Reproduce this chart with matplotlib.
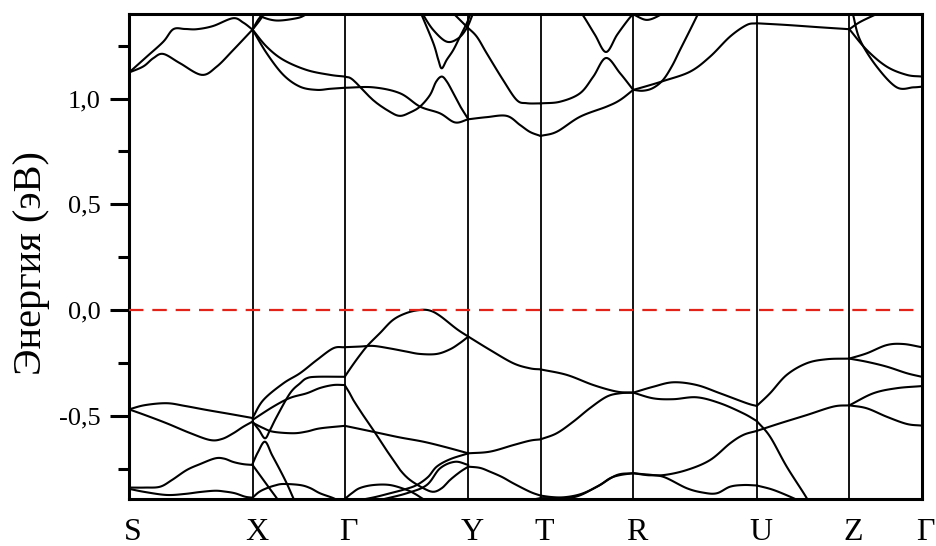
import numpy as np
import matplotlib
matplotlib.use('Agg')
import matplotlib.pyplot as plt
import matplotlib.transforms as mtransforms
from matplotlib.ticker import MultipleLocator, FuncFormatter

plt.rcParams['font.family'] = ['Liberation Serif', 'DejaVu Serif']

# high-symmetry points along the path
kpt_labels = ['S', 'X', 'Γ', 'Y', 'T', 'R', 'U', 'Z', 'Γ']
kpt_pos = [0.0, 1.235, 2.157, 3.393, 4.115, 5.042, 6.277, 7.203, 7.927]

# conduction bands, (k, E) in eV
cb_sx_low = [(0.0, 1.123), (0.143, 1.152), (0.243, 1.191), (0.343, 1.211), (0.51, 1.167),
             (0.727, 1.112), (0.877, 1.151), (1.043, 1.230), (1.235, 1.326)]
cb_sx_up = [(0.0, 1.123), (0.177, 1.198), (0.343, 1.269), (0.443, 1.328), (0.56, 1.329),
            (0.677, 1.328), (0.84, 1.343), (1.04, 1.380), (1.143, 1.359), (1.235, 1.326)]
cb_x_a = [(1.235, 1.326), (1.29, 1.372), (1.34, 1.40), (1.37, 1.42)]
cb_x_b = [(1.235, 1.326), (1.31, 1.372), (1.36, 1.41)]
cb_xg_top = [(1.29, 1.41), (1.327, 1.387), (1.477, 1.369), (1.677, 1.380), (1.76, 1.395), (1.81, 1.41)]
cb_xgy_1 = [(1.235, 1.326), (1.377, 1.245), (1.543, 1.183), (1.777, 1.135), (2.01, 1.112),
            (2.157, 1.104), (2.24, 1.088), (2.44, 0.993), (2.61, 0.937), (2.71, 0.918),
            (2.81, 0.934), (2.91, 0.962), (3.01, 1.017), (3.07, 1.079), (3.127, 1.104),
            (3.18, 1.079), (3.243, 1.025), (3.31, 0.965), (3.393, 0.902)]
cb_xgy_2 = [(1.235, 1.326), (1.377, 1.214), (1.543, 1.112), (1.71, 1.056), (1.877, 1.041),
            (2.01, 1.046), (2.157, 1.051), (2.443, 1.053), (2.71, 1.025), (2.91, 0.962),
            (3.11, 0.930), (3.26, 0.887), (3.393, 0.902)]
cb_yz = [(3.393, 0.902), (3.577, 0.912), (3.777, 0.918), (3.91, 0.875), (4.01, 0.842),
         (4.115, 0.823), (4.277, 0.843), (4.51, 0.914), (4.777, 0.962), (4.91, 0.993),
         (5.042, 1.041), (5.177, 1.059), (5.343, 1.083), (5.61, 1.127), (5.81, 1.198),
         (6.01, 1.293), (6.177, 1.348), (6.277, 1.356), (6.577, 1.348), (6.91, 1.337),
         (7.203, 1.328), (7.377, 1.230), (7.577, 1.151), (7.777, 1.112), (7.927, 1.104)]
cb_tr = [(3.26, 1.395), (3.377, 1.340), (3.477, 1.293), (3.577, 1.214), (3.74, 1.088),
         (3.877, 0.993), (3.977, 0.978), (4.115, 0.977), (4.31, 0.985), (4.51, 1.025),
         (4.643, 1.104), (4.77, 1.192), (4.91, 1.120), (5.042, 1.041), (5.14, 1.037),
         (5.24, 1.050), (5.34, 1.088), (5.43, 1.154), (5.51, 1.230), (5.61, 1.324),
         (5.68, 1.391), (5.72, 1.43)]
cb_tr_v = [(4.46, 1.443), (4.543, 1.391), (4.66, 1.301), (4.77, 1.220), (4.88, 1.301),
           (4.99, 1.372), (5.042, 1.400), (5.08, 1.43)]
cb_r_dip = [(4.99, 1.419), (5.042, 1.398), (5.177, 1.372), (5.31, 1.395), (5.36, 1.419)]
cb_gy_v = [(2.90, 1.43), (2.927, 1.395), (3.043, 1.262), (3.093, 1.183), (3.127, 1.143),
           (3.177, 1.183), (3.243, 1.230), (3.31, 1.293), (3.377, 1.356), (3.41, 1.395), (3.44, 1.43)]
cb_gy_u = [(2.91, 1.429), (2.943, 1.395), (3.043, 1.324), (3.177, 1.269), (3.293, 1.285),
           (3.377, 1.333), (3.427, 1.387), (3.45, 1.419)]
cb_zg = [(7.22, 1.43), (7.243, 1.391), (7.31, 1.277), (7.477, 1.151), (7.677, 1.053),
         (7.843, 1.053), (7.927, 1.056)]
cb_z_up = [(7.203, 1.328), (7.31, 1.362), (7.477, 1.400), (7.56, 1.419)]

# valence bands
vb_1 = [(0.0, -0.470), (0.16, -0.450), (0.377, -0.441), (0.56, -0.454), (0.777, -0.473),
        (1.01, -0.492), (1.235, -0.511), (1.343, -0.426), (1.543, -0.347), (1.71, -0.299),
        (1.877, -0.237), (2.043, -0.181), (2.157, -0.176), (2.31, -0.173), (2.443, -0.170),
        (2.61, -0.182), (2.777, -0.197), (2.91, -0.208), (3.077, -0.208), (3.21, -0.186),
        (3.31, -0.156), (3.393, -0.126)]
vb_2 = [(0.0, -0.470), (0.16, -0.497), (0.377, -0.536), (0.61, -0.582), (0.81, -0.615),
        (0.93, -0.610), (1.043, -0.583), (1.14, -0.553), (1.235, -0.528), (1.30, -0.568),
        (1.36, -0.607), (1.41, -0.568), (1.477, -0.505), (1.61, -0.394), (1.71, -0.347),
        (1.777, -0.323), (1.877, -0.316), (2.157, -0.316), (2.23, -0.265), (2.31, -0.213),
        (2.39, -0.166), (2.51, -0.109), (2.64, -0.047), (2.777, -0.014), (2.91, 0.0),
        (3.01, -0.003), (3.11, -0.028), (3.277, -0.090), (3.393, -0.126), (3.61, -0.189),
        (3.843, -0.252), (4.01, -0.276), (4.115, -0.281), (4.377, -0.307), (4.643, -0.355),
        (4.877, -0.386), (5.042, -0.391), (5.243, -0.363), (5.443, -0.342), (5.677, -0.355),
        (5.91, -0.394), (6.177, -0.441), (6.277, -0.454), (6.41, -0.394), (6.577, -0.307),
        (6.777, -0.252), (6.977, -0.233), (7.203, -0.230), (7.377, -0.205), (7.577, -0.166),
        (7.743, -0.161), (7.927, -0.176)]
vb_zg_2 = [(7.203, -0.230), (7.377, -0.245), (7.577, -0.268), (7.777, -0.299), (7.927, -0.316)]
vb_3 = [(1.235, -0.520), (1.443, -0.457), (1.61, -0.416), (1.777, -0.394), (1.91, -0.369),
        (2.043, -0.355), (2.157, -0.355), (2.20, -0.388), (2.243, -0.426), (2.34, -0.497),
        (2.443, -0.568), (2.54, -0.639), (2.643, -0.710), (2.72, -0.762), (2.81, -0.804),
        (2.943, -0.843), (3.043, -0.860), (3.13, -0.842), (3.21, -0.804), (3.31, -0.766),
        (3.393, -0.741), (3.51, -0.747), (3.61, -0.765), (3.73, -0.790), (3.843, -0.820),
        (4.01, -0.860), (4.115, -0.878), (4.23, -0.885), (4.343, -0.886), (4.47, -0.877),
        (4.577, -0.860), (4.71, -0.828), (4.81, -0.796), (4.91, -0.781), (5.042, -0.772),
        (5.177, -0.778), (5.343, -0.781), (5.577, -0.757), (5.81, -0.710), (6.01, -0.631),
        (6.143, -0.591), (6.277, -0.572), (6.51, -0.536), (6.777, -0.497), (7.043, -0.457),
        (7.203, -0.451), (7.443, -0.394), (7.677, -0.370), (7.927, -0.360)]
vb_zg_low = [(7.203, -0.451), (7.377, -0.465), (7.577, -0.505), (7.777, -0.539), (7.927, -0.547)]
vb_4 = [(1.235, -0.533), (1.34, -0.558), (1.443, -0.576), (1.643, -0.583), (1.777, -0.575),
        (1.91, -0.560), (2.157, -0.548), (2.31, -0.563), (2.51, -0.583), (2.71, -0.603),
        (2.943, -0.623), (3.16, -0.648), (3.393, -0.678), (3.61, -0.670), (3.843, -0.639),
        (4.01, -0.618), (4.115, -0.612), (4.277, -0.583), (4.443, -0.528), (4.61, -0.464),
        (4.777, -0.410), (4.91, -0.394), (5.042, -0.391), (5.243, -0.418), (5.443, -0.422),
        (5.677, -0.413), (5.91, -0.441), (6.143, -0.489), (6.277, -0.525), (6.41, -0.599),
        (6.577, -0.741), (6.777, -0.890), (6.83, -0.946)]
vb_sx_3 = [(0.0, -0.840), (0.16, -0.840), (0.31, -0.836), (0.43, -0.804), (0.577, -0.757),
           (0.71, -0.729), (0.86, -0.702), (0.95, -0.703), (1.043, -0.719), (1.14, -0.729),
           (1.235, -0.733), (1.33, -0.795), (1.41, -0.847), (1.477, -0.890), (1.53, -0.927)]
vb_x_lam = [(1.235, -0.728), (1.29, -0.672), (1.36, -0.623), (1.43, -0.686), (1.51, -0.757),
            (1.58, -0.823), (1.643, -0.890), (1.68, -0.927)]
vb_sx_4 = [(0.0, -0.846), (0.16, -0.861), (0.377, -0.875), (0.56, -0.870), (0.71, -0.861),
           (0.86, -0.855), (0.96, -0.859), (1.06, -0.867), (1.16, -0.883), (1.235, -0.888),
           (1.30, -0.861), (1.377, -0.843), (1.46, -0.830), (1.543, -0.823), (1.71, -0.828),
           (1.81, -0.842), (1.91, -0.867), (2.043, -0.890), (2.11, -0.908)]
vb_gy_1 = [(2.157, -0.894), (2.23, -0.866), (2.31, -0.842), (2.443, -0.828), (2.61, -0.828),
           (2.777, -0.851), (2.86, -0.870), (2.927, -0.890), (2.99, -0.908)]
vb_gy_2 = [(2.21, -0.908), (2.31, -0.899), (2.46, -0.885), (2.61, -0.867), (2.76, -0.848),
           (2.877, -0.828), (2.99, -0.790), (3.077, -0.741), (3.21, -0.706), (3.393, -0.678)]
vb_gy_3 = [(2.51, -0.899), (2.777, -0.867), (2.977, -0.828), (3.11, -0.749), (3.26, -0.718),
           (3.393, -0.733)]
vb_tu_low = [(3.91, -0.908), (4.115, -0.890), (4.443, -0.886), (4.677, -0.836), (4.877, -0.781),
             (5.042, -0.772), (5.177, -0.781), (5.343, -0.789), (5.577, -0.843), (5.743, -0.864),
             (5.877, -0.867), (6.01, -0.836), (6.143, -0.828), (6.277, -0.830), (6.443, -0.851),
             (6.643, -0.890), (6.71, -0.908)]

bands = [cb_sx_low, cb_sx_up, cb_x_a, cb_x_b, cb_xg_top, cb_xgy_1, cb_xgy_2, cb_yz, cb_tr,
         cb_tr_v, cb_r_dip, cb_gy_v, cb_gy_u, cb_zg, cb_z_up,
         vb_1, vb_2, vb_zg_2, vb_3, vb_zg_low, vb_4, vb_sx_3, vb_x_lam, vb_sx_4,
         vb_gy_1, vb_gy_2, vb_gy_3, vb_tu_low]


def smooth(pts, n=10):
    # catmull-rom curve through the read points
    pts = np.asarray(pts, float)
    if len(pts) < 3:
        return pts
    p = np.vstack([2 * pts[0] - pts[1], pts, 2 * pts[-1] - pts[-2]])
    t = np.linspace(0, 1, n + 1)[1:, None]
    out = [pts[:1]]
    for i in range(1, len(p) - 2):
        p0, p1, p2, p3 = p[i - 1], p[i], p[i + 1], p[i + 2]
        seg = 0.5 * (2 * p1 + (-p0 + p2) * t + (2 * p0 - 5 * p1 + 4 * p2 - p3) * t ** 2
                     + (-p0 + 3 * p1 - 3 * p2 + p3) * t ** 3)
        out.append(seg)
    return np.vstack(out)


def pieces(band):
    # split at high-symmetry points so kinks there stay sharp
    res, cur = [], [band[0]]
    for pt in band[1:]:
        cur.append(pt)
        if any(abs(pt[0] - k) < 0.004 for k in kpt_pos[1:-1]) and pt is not band[-1]:
            res.append(cur)
            cur = [pt]
    if len(cur) > 1:
        res.append(cur)
    return res


fig = plt.figure(figsize=(9.37, 5.46), dpi=100)
ax = fig.add_axes([0.1377, 0.0861, 0.846, 0.8883])

for k in kpt_pos[1:-1]:
    ax.axvline(k, color='black', lw=1.3, zorder=1)

for band in bands:
    for part in pieces(band):
        xy = smooth(part)
        ax.plot(xy[:, 0], xy[:, 1], color='black', lw=1.5, zorder=2, solid_capstyle='round')

ax.axhline(0, color='#e2231a', lw=1.6, dashes=(6.5, 4), zorder=3)

ax.set_xlim(kpt_pos[0], kpt_pos[-1])
ax.set_ylim(-0.894, 1.40)

ax.set_xticks(kpt_pos)
ax.set_xticklabels(kpt_labels, fontsize=23)
ax.tick_params(axis='x', length=0, pad=14)
shift = mtransforms.ScaledTranslation(0.04, 0, fig.dpi_scale_trans)
for lab in ax.get_xticklabels():
    lab.set_transform(lab.get_transform() + shift)

ax.yaxis.set_major_locator(MultipleLocator(0.5))
ax.yaxis.set_minor_locator(MultipleLocator(0.25))
ax.yaxis.set_major_formatter(FuncFormatter(lambda v, p: f'{v:.1f}'.replace('.', ',')))
ax.tick_params(axis='y', which='major', direction='out', length=13.5, width=2.2,
               labelsize=19, pad=7)
ax.tick_params(axis='y', which='minor', direction='out', length=8, width=2.2)

for sp in ax.spines.values():
    sp.set_linewidth(2.2)

ax.set_ylabel('Энергия (эВ)', fontsize=29)
ax.yaxis.set_label_coords(-0.10, 0.487)

fig.savefig('out.png', dpi=100)
